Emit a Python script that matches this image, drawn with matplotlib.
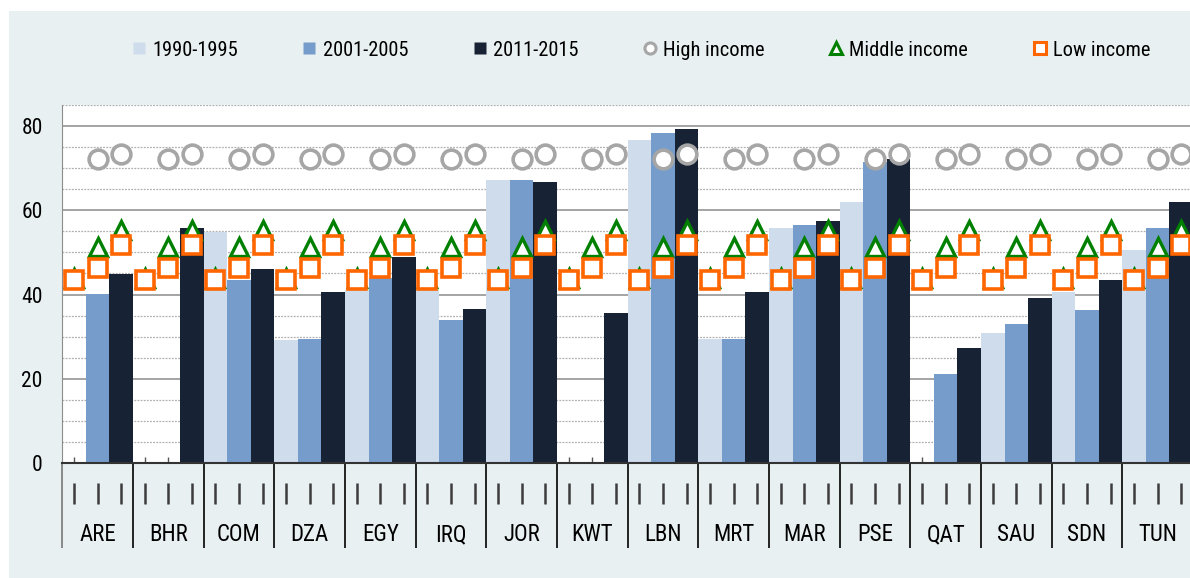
import numpy as np
import matplotlib
matplotlib.use("Agg")
import matplotlib.pyplot as plt
from matplotlib import font_manager
from matplotlib.lines import Line2D
from matplotlib.patches import Rectangle
import matplotlib.transforms as mtrans

# pick a narrow sans if one is installed
installed = {f.name for f in font_manager.fontManager.ttflist}
font = "DejaVu Sans"
for cand in ["Liberation Sans Narrow", "Roboto Condensed", "DejaVu Sans Condensed",
             "Arial Narrow", "Roboto", "Liberation Sans"]:
    if cand in installed:
        font = cand
        break
plt.rcParams['font.family'] = [font, 'DejaVu Sans']

countries = ["ARE", "BHR", "COM", "DZA", "EGY", "IRQ", "JOR", "KWT",
             "LBN", "MRT", "MAR", "PSE", "QAT", "SAU", "SDN", "TUN"]
nan = np.nan
p1990 = [nan, nan, 54.9, 29.2, 41.0, 41.0, 67.3, nan, 76.8, 29.4, 55.7, 62.0, nan, 30.9, 40.5, 50.6]
p2001 = [40.1, nan, 43.5, 29.4, 44.0, 33.9, 67.2, nan, 78.3, 29.4, 56.4, 71.5, 21.1, 32.9, 36.4, 55.8]
p2011 = [44.9, 55.9, 46.0, 40.7, 49.0, 36.6, 66.7, 35.5, 79.3, 40.7, 57.5, 72.1, 27.4, 39.2, 43.5, 62.0]
periods = ["1990-1995", "2001-2005", "2011-2015"]

# income-group benchmarks, one value per period (same for every country)
high_income = [nan, 72.1, 73.3]
middle_income = [43.9, 51.3, 55.3]
low_income = [43.4, 46.4, 51.7]

bar_colors = ["#cfdcec", "#759cca", "#172234"]
bg = "#e9f0f2"

fig = plt.figure(figsize=(11.9, 5.78), dpi=100)
fig.patch.set_facecolor("white")
fig.patches.append(Rectangle((9/1190, 0), 1, 567/578, transform=fig.transFigure,
                             facecolor=bg, edgecolor="none", zorder=-10))

ax = fig.add_axes([62.3/1190, 115/578, (1193-62.3)/1190, 358/578])
ax.set_facecolor("white")

n = len(countries)
idx = np.arange(n) * 3
series = [p1990, p2001, p2011]
for j, vals in enumerate(series):
    ax.bar(idx + j, vals, width=1.0, color=bar_colors[j], edgecolor="none", zorder=2)

def marker_xy(vals):
    xs, ys = [], []
    for i in range(n):
        for j, v in enumerate(vals):
            if not np.isnan(v):
                xs.append(3*i + j)
                ys.append(v)
    return xs, ys

hx, hy = marker_xy(high_income)
ax.plot(hx, hy, ls="none", marker="o", ms=13.5, mfc="white", mec="#a6a6a6", mew=2.6, zorder=4, clip_on=False)
mx, my = marker_xy(middle_income)
ax.plot(mx, my, ls="none", marker="^", ms=12.5, mfc="white", mec="#008000", mew=2.4, zorder=5)
lx, ly = marker_xy(low_income)
ax.plot(lx, ly, ls="none", marker="s", ms=13.5, mfc="white", mec="#ff6600", mew=2.6, zorder=6)

ax.set_xlim(-0.5, 3*n - 0.5)
ax.set_ylim(0, 85)

# gridlines
for v in range(5, 90, 5):
    if v % 20 == 0:
        ax.axhline(v, color="#8c8c8c", lw=1.1, zorder=1)
    else:
        ax.axhline(v, color="#b0b0b0", lw=0.9, ls=(0, (1.5, 1)), zorder=1)

ax.set_yticks([0, 20, 40, 60, 80])
ax.tick_params(axis="y", length=0, pad=14, labelsize=15.5)
ax.set_xticks(np.arange(3*n))
ax.tick_params(axis="x", direction="in", length=4, color="#555555", width=1, labelbottom=False)

for s in ["top", "right"]:
    ax.spines[s].set_visible(False)
ax.spines["left"].set_color("#8c8c8c")
ax.spines["bottom"].set_color("#333333")
ax.spines["bottom"].set_linewidth(1.5)
ax.spines["bottom"].set_zorder(7)

trans = mtrans.blended_transform_factory(ax.transData, ax.transAxes)
bounds = idx - 0.5
ax.vlines(bounds[0], -0.2374, 0, transform=trans, color="#777777", lw=1.2, clip_on=False)
ax.vlines(bounds[1:], -0.2374, 0, transform=trans, color="black", lw=1.2, clip_on=False)
ax.vlines(np.arange(3*n), -0.1145, -0.0559, transform=trans, color="#3c3c3c", lw=1.8, clip_on=False)
for i, c in enumerate(countries):
    ax.text(3*i + 1, -0.201, c, transform=trans, ha="center", va="center", fontsize=16.5)

handles = [Line2D([], [], ls="none", marker="s", ms=8.5, mfc=bar_colors[k], mec="none") for k in range(3)]
handles += [
    Line2D([], [], ls="none", marker="o", ms=8, mfc="white", mec="#a6a6a6", mew=2.2),
    Line2D([], [], ls="none", marker="^", ms=8, mfc="white", mec="#008000", mew=2.2),
    Line2D([], [], ls="none", marker="s", ms=8, mfc="white", mec="#ff6600", mew=2.2),
]
labels = periods + ["High income", "Middle income", "Low income"]
fig.legend(handles, labels, loc="center", bbox_to_anchor=(641/1190, 1 - 50/578), ncol=6,
           frameon=False, fontsize=14.7, handlelength=0.7, handletextpad=0.3,
           columnspacing=3.15)

fig.savefig("out.png", dpi=100, facecolor=fig.get_facecolor())
